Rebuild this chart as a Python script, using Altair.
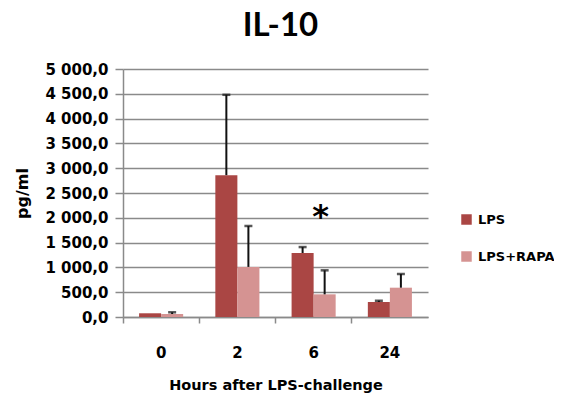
import altair as alt
import pandas as pd

hours = ["0", "2", "6", "24"]
series = ["LPS", "LPS+RAPA"]
lps_vals = [75, 2860, 1290, 302]
lps_err_top = [None, 4480, 1410, 330]
rapa_vals = [60, 1010, 457, 591]
rapa_err_top = [95, 1835, 941, 867]
colors = ["#AA4644", "#D59392"]
star_hour = "6"
star_series = "LPS+RAPA"
star_y = 2100

rows = []
for i, h in enumerate(hours):
    rows.append({"hour": h, "series": "LPS", "value": lps_vals[i], "err": lps_err_top[i]})
    rows.append({"hour": h, "series": "LPS+RAPA", "value": rapa_vals[i], "err": rapa_err_top[i]})
df = pd.DataFrame(rows)
df_err = df.dropna(subset=["err"])
df_star = pd.DataFrame([{"hour": star_hour, "series": star_series, "value": star_y, "t": "*"}])

FONT = "DejaVu Sans"
GRID = "#8a8a8a"

x_axis = alt.Axis(
    title="Hours after LPS-challenge", bandPosition=0, labelAngle=0,
    labelFont=FONT, labelFontWeight="bold", labelFontSize=15, labelColor="black",
    labelPadding=22, tickSize=6, tickColor=GRID, domainColor=GRID, domainWidth=1.5,
    tickWidth=1.5, titleFont=FONT, titleFontWeight="bold", titleFontSize=14.5,
    titleColor="black", titlePadding=18, grid=False,
)
y_axis = alt.Axis(
    title="pg/ml", values=list(range(0, 5001, 500)),
    labelExpr="replace(replace(format(datum.value, ',.1f'), ',', ' '), '.', ',')",
    labelFont=FONT, labelFontWeight="bold", labelFontSize=15, labelColor="black",
    labelPadding=7, tickSize=8, tickColor=GRID, tickWidth=1.5, domainColor=GRID,
    domainWidth=1.5, gridColor=GRID, gridWidth=1.5,
    titleFont=FONT, titleFontWeight="bold", titleFontSize=16, titleColor="black",
    titleX=-101, titleY=124, titleAlign="center", titleBaseline="middle", titleAngle=270,
)
x_scale = alt.Scale(paddingInner=0, paddingOuter=0)
xo_scale = alt.Scale(paddingInner=0, paddingOuter=0.73)
y_scale = alt.Scale(domain=[0, 5000], nice=False)


def xe():
    return alt.X("hour:N", sort=hours, scale=x_scale, axis=x_axis)


def xoe():
    return alt.XOffset("series:N", sort=series, scale=xo_scale)


bars = alt.Chart(df).mark_bar().encode(
    x=xe(), xOffset=xoe(),
    y=alt.Y("value:Q", scale=y_scale, axis=y_axis),
    color=alt.Color(
        "series:N", sort=series, scale=alt.Scale(domain=series, range=colors),
        legend=alt.Legend(
            title=None, orient="none", legendX=337, legendY=144, symbolType="square",
            symbolSize=110, symbolStrokeWidth=0, labelFont=FONT, labelFontWeight="bold",
            labelFontSize=13, labelColor="black", rowPadding=23, labelOffset=5, padding=0,
        ),
    ),
)

rules = alt.Chart(df_err).mark_rule(color="#111111", strokeWidth=2).encode(
    x=xe(), xOffset=xoe(),
    y=alt.Y("value:Q", scale=y_scale, axis=y_axis), y2="err:Q",
)
caps = alt.Chart(df_err).mark_tick(color="#111111", orient="horizontal", size=8, thickness=2.5).encode(
    x=xe(), xOffset=xoe(),
    y=alt.Y("err:Q", scale=y_scale, axis=y_axis, title="pg/ml"),
)
star = alt.Chart(df_star).mark_text(
    font=FONT, fontWeight="bold", fontSize=32, color="black", baseline="middle", dx=-4, dy=4
).encode(
    x=xe(), xOffset=xoe(),
    y=alt.Y("value:Q", scale=y_scale, axis=y_axis), text="t:N",
)

chart = alt.layer(bars, rules, caps, star).properties(
    width=305, height=248,
    title=alt.TitleParams("IL-10", font="Lato", fontWeight="bold", fontSize=33,
                          color="black", anchor="middle", offset=19, dx=5),
    autosize=alt.AutoSizeParams(type="none"),
    padding={"left": 115, "top": 61, "right": 126, "bottom": 77},
).configure_view(stroke=None)

chart.save("out.html", embed_options={"renderer": "svg", "actions": False})
